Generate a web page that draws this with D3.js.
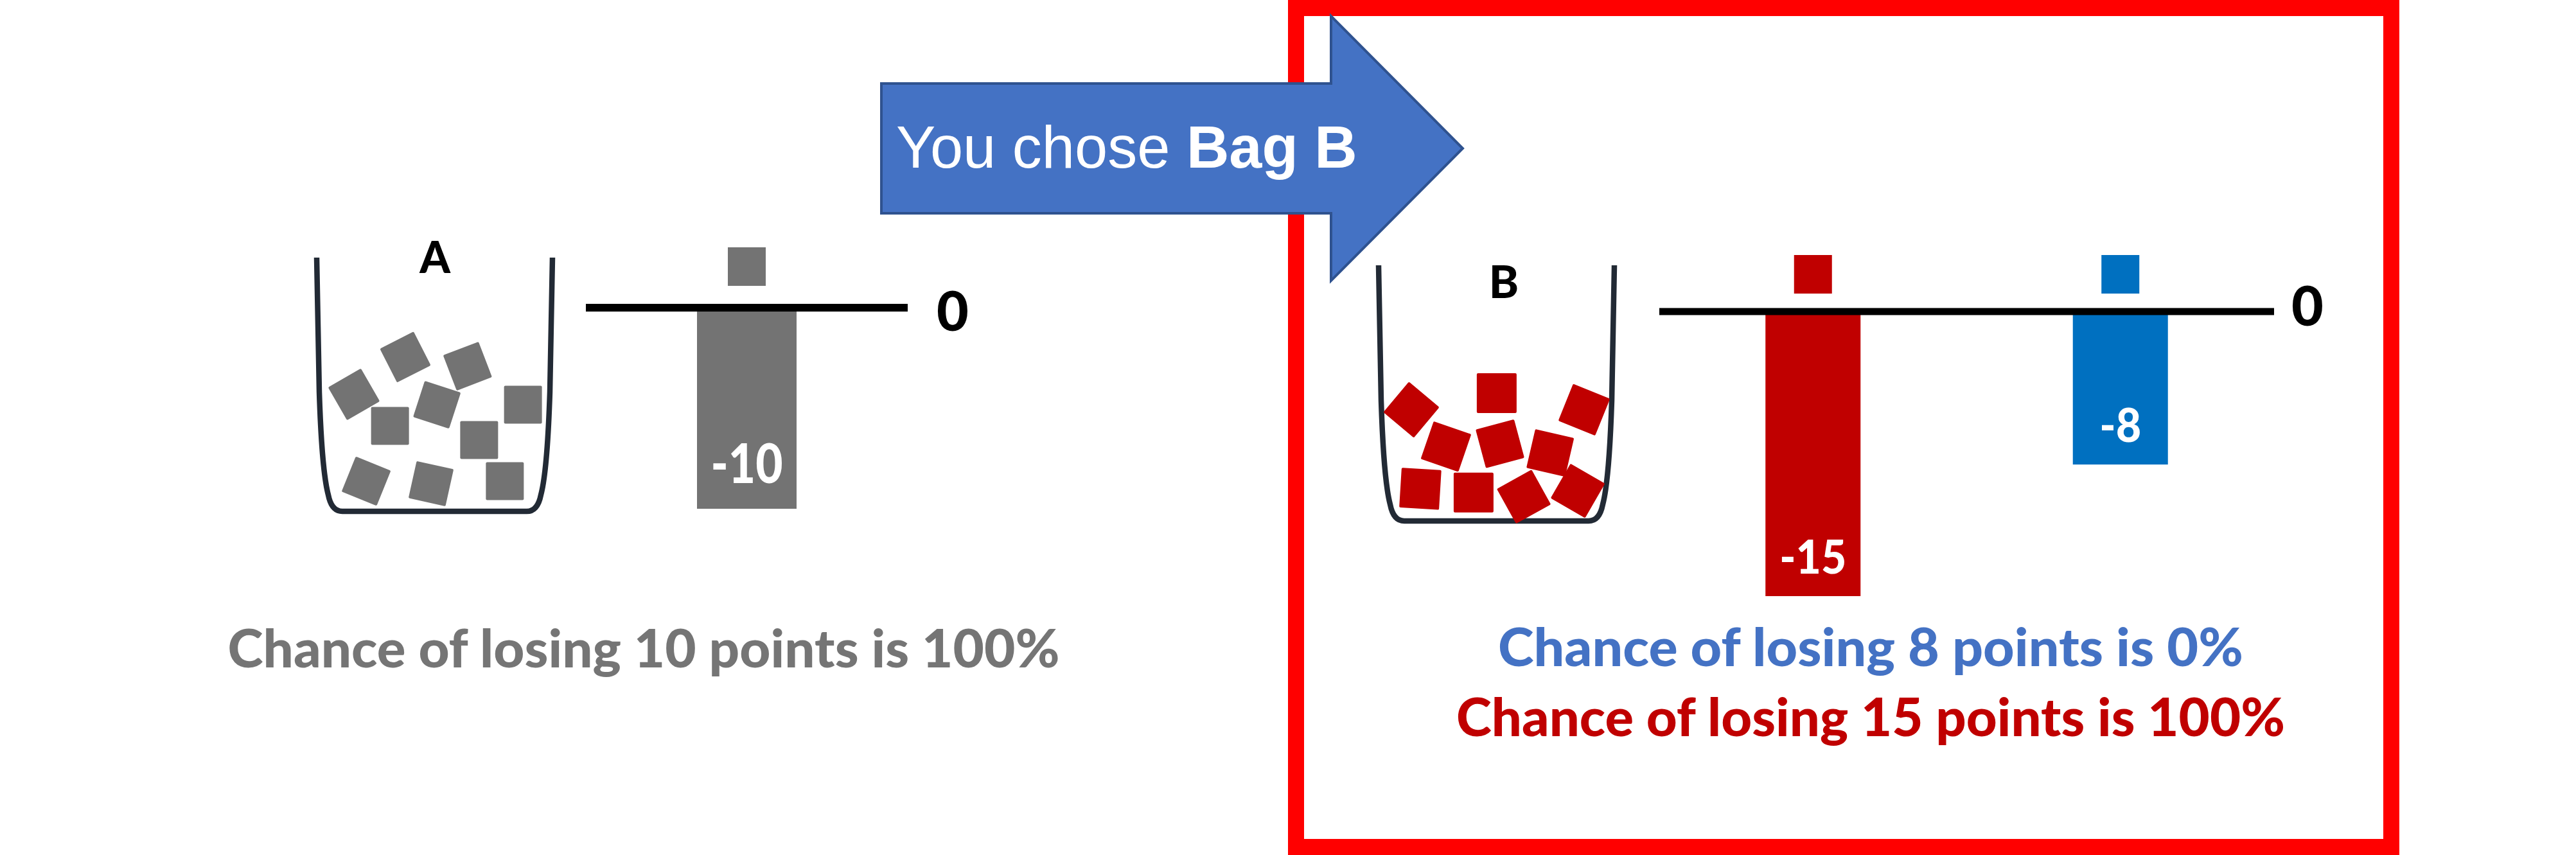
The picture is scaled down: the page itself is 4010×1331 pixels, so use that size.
<!DOCTYPE html>
<html>
<head>
<meta charset="utf-8">
<script src="https://cdn.jsdelivr.net/npm/d3@7"></script>
<style>
  body { margin: 0; background: #fff; }
  text { font-family: Lato, "Open Sans", sans-serif; font-weight: 900; }
</style>
</head>
<body>
<div class="canvas"></div>
<script>
// ---- data ----
const bagNames = ["A", "B"];
const valuesA = [-10];
const valuesB = [-15, -8];
const colorsA = ["#737373"];
const colorsB = ["#C00000", "#0070C0"];
const zeroLabel = "0";

// squares inside each bag: [across 0..1, down 0..1, tilt in degrees]
const squaresA = [
  [0.158, 0.539, -30], [0.376, 0.392, -27], [0.640, 0.428, -21],
  [0.510, 0.580, 18], [0.311, 0.663, 0], [0.875, 0.580, 0],
  [0.689, 0.719, 0], [0.798, 0.881, 0], [0.210, 0.881, 22],
  [0.485, 0.891, 12.5]
];
const squaresB = [
  [0.139, 0.565, -50], [0.501, 0.500, 0], [0.872, 0.565, 22],
  [0.286, 0.709, 19], [0.515, 0.698, -15], [0.728, 0.734, 13],
  [0.177, 0.874, 3.5], [0.403, 0.889, 0], [0.616, 0.905, -29],
  [0.845, 0.882, 30]
];

const captionsA = ["Chance of losing 10 points is 100%"];
const captionColorsA = ["#757575"];
const captionsB = ["Chance of losing 8 points is 0%", "Chance of losing 15 points is 100%"];
const captionColorsB = ["#4472C4", "#C00000"];

const arrowWords = ["You chose ", "Bag B"];

// ---- svg ----
const svg = d3.select(".canvas")
              .append("svg")
              .attr("width", 4010)
              .attr("height", 1331);

// red frame round the chosen bag
svg.append("rect")
   .attr("x", 2017.5)
   .attr("y", 12.5)
   .attr("width", 1705)
   .attr("height", 1306)
   .attr("fill", "none")
   .attr("stroke", "#FF0000")
   .attr("stroke-width", 25);

// cup outline (open top, rounded bottom corners)
function cupPath(w, h) {
  const p = d3.path();
  p.moveTo(0, 0);
  p.lineTo(4, h * 0.53);
  p.quadraticCurveTo(8, h * 0.84, 18, h * 0.935);
  p.quadraticCurveTo(23, h, 40, h);
  p.lineTo(w - 40, h);
  p.quadraticCurveTo(w - 23, h, w - 18, h * 0.935);
  p.quadraticCurveTo(w - 8, h * 0.84, w - 4, h * 0.53);
  p.lineTo(w, 0);
  return p.toString();
}

function drawPanel(cfg) {
  const g = svg.append("g");

  // bag
  const cup = cfg.cup;
  g.append("path")
   .attr("d", cupPath(cup.w, cup.h))
   .attr("transform", `translate(${cup.x},${cup.y})`)
   .attr("fill", "none")
   .attr("stroke", "#222A35")
   .attr("stroke-width", 8.5)
   .attr("stroke-linejoin", "round");

  const sx = d3.scaleLinear().domain([0, 1]).range([cup.x, cup.x + cup.w]);
  const sy = d3.scaleLinear().domain([0, 1]).range([cup.y, cup.y + cup.h]);

  g.selectAll("rect.pebble")
   .data(cfg.squares)
   .enter()
   .append("rect")
   .attr("class", "pebble")
   .attr("x", -cfg.sq / 2)
   .attr("y", -cfg.sq / 2)
   .attr("width", cfg.sq)
   .attr("height", cfg.sq)
   .attr("rx", 2)
   .attr("fill", cfg.colors[0])
   .attr("transform", d => `translate(${sx(d[0])},${sy(d[1])}) rotate(${d[2]})`);

  g.append("text")
   .attr("x", cfg.label.x)
   .attr("y", cfg.label.y)
   .attr("text-anchor", "middle")
   .attr("font-size", cfg.label.size)
   .attr("fill", "#000")
   .text(cfg.name);

  // bars
  const x = d3.scalePoint()
              .domain(cfg.values.map((d, i) => i))
              .range([cfg.axis.x0, cfg.axis.x1])
              .padding(0.5);
  const y = d3.scaleLinear()
              .domain([d3.min(cfg.values), 0])
              .range(cfg.yRange);

  g.selectAll("rect.bar")
   .data(cfg.values)
   .enter()
   .append("rect")
   .attr("class", "bar")
   .attr("x", (d, i) => x(i) - cfg.barWidth / 2)
   .attr("y", y(0))
   .attr("width", cfg.barWidth)
   .attr("height", d => y(d) - y(0))
   .attr("fill", (d, i) => cfg.colors[i % cfg.colors.length]);

  // little key squares above the bars
  g.selectAll("rect.key")
   .data(cfg.values)
   .enter()
   .append("rect")
   .attr("class", "key")
   .attr("x", (d, i) => x(i) - cfg.key.size / 2)
   .attr("y", cfg.key.y)
   .attr("width", cfg.key.size)
   .attr("height", cfg.key.size + 1)
   .attr("fill", (d, i) => cfg.colors[i % cfg.colors.length]);

  g.selectAll("text.value")
   .data(cfg.values)
   .enter()
   .append("text")
   .attr("class", "value")
   .attr("x", (d, i) => x(i))
   .attr("y", d => y(d) - cfg.valueLabel.gap)
   .attr("text-anchor", "middle")
   .attr("font-size", cfg.valueLabel.size)
   .attr("textLength", (d, i) => cfg.valueLabel.lengths[i])
   .attr("lengthAdjust", "spacingAndGlyphs")
   .attr("fill", "#fff")
   .text(d => d);

  // zero line
  g.append("line")
   .attr("x1", cfg.axis.x0)
   .attr("x2", cfg.axis.x1)
   .attr("y1", cfg.axis.y)
   .attr("y2", cfg.axis.y)
   .attr("stroke", "#000")
   .attr("stroke-width", cfg.axis.width);

  g.append("text")
   .attr("x", cfg.zero.x)
   .attr("y", cfg.zero.y)
   .attr("text-anchor", "middle")
   .attr("font-size", cfg.zero.size)
   .attr("fill", "#000")
   .text(zeroLabel);

  // captions
  g.selectAll("text.caption")
   .data(cfg.captions)
   .enter()
   .append("text")
   .attr("class", "caption")
   .attr("x", cfg.caption.x)
   .attr("y", (d, i) => cfg.caption.y + i * cfg.caption.step)
   .attr("text-anchor", "middle")
   .attr("font-size", 82)
   .attr("textLength", (d, i) => cfg.caption.lengths[i])
   .attr("lengthAdjust", "spacingAndGlyphs")
   .attr("fill", (d, i) => cfg.captionColors[i])
   .text(d => d);
}

drawPanel({
  name: bagNames[0],
  values: valuesA,
  colors: colorsA,
  squares: squaresA,
  sq: 59,
  cup: {x: 493, y: 401, w: 367, h: 395},
  label: {x: 677, y: 425, size: 68},
  axis: {x0: 912, x1: 1413, y: 479, width: 12},
  yRange: [792, 485],
  barWidth: 155,
  key: {y: 385, size: 59},
  valueLabel: {size: 86, gap: 40, lengths: [112]},
  zero: {x: 1483, y: 515, size: 86},
  captions: captionsA,
  captionColors: captionColorsA,
  caption: {x: 1002, y: 1039, step: 0, lengths: [1295]}
});

drawPanel({
  name: bagNames[1],
  values: valuesB,
  colors: colorsB,
  squares: squaresB,
  sq: 62,
  cup: {x: 2146, y: 413, w: 367, h: 398},
  label: {x: 2341, y: 464, size: 70},
  axis: {x0: 2583, x1: 3540, y: 485, width: 11},
  yRange: [928, 489],
  barWidth: 148,
  key: {y: 397, size: 59},
  valueLabel: {size: 73, gap: 35, lengths: [104, 65]},
  zero: {x: 3592, y: 507, size: 86},
  captions: captionsB,
  captionColors: captionColorsB,
  caption: {x: 2912, y: 1037, step: 109, lengths: [1160, 1290]}
});

// arrow pointing to the chosen bag
const arrowPts = [[1372, 130], [2072, 130], [2072, 25], [2277, 231], [2072, 437], [2072, 332], [1372, 332]];
svg.append("path")
   .attr("d", d3.line()(arrowPts) + "Z")
   .attr("fill", "#4472C4")
   .attr("stroke", "#2F528F")
   .attr("stroke-width", 4);

const arrowText = svg.append("text")
   .attr("x", 1395)
   .attr("y", 261)
   .attr("font-size", 92)
   .attr("fill", "#fff")
   .style("font-family", "'Liberation Sans', Arial, sans-serif")
   .style("font-weight", "normal");
arrowText.append("tspan").text(arrowWords[0]);
arrowText.append("tspan").style("font-weight", "bold").text(arrowWords[1]);
</script>
</body>
</html>
